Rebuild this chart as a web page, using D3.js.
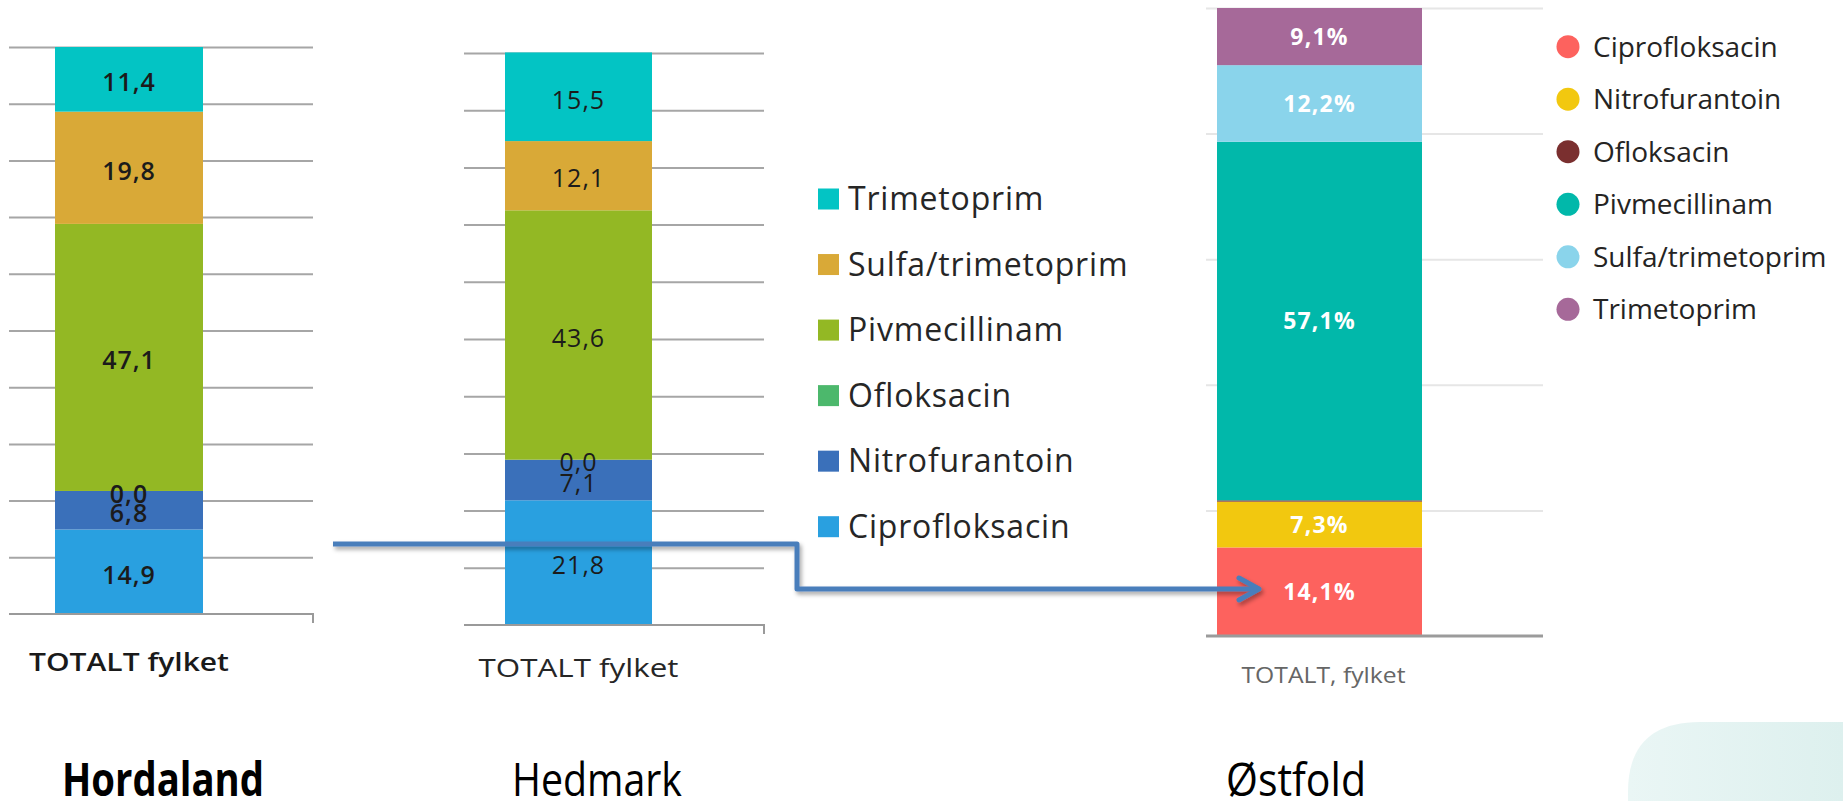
<!DOCTYPE html>
<html>
<head>
<meta charset="utf-8">
<script src="https://cdn.jsdelivr.net/npm/d3@7"></script>
<style>
	body { margin: 0; background: #fff; }
	svg { display: block; font-family: "Open Sans", sans-serif; }
</style>
</head>
<body>
<div id="chart"></div>
<script>
// stack order, bottom to top
var drugs = ["Ciprofloksacin", "Nitrofurantoin", "Ofloksacin", "Pivmecillinam", "Sulfa/trimetoprim", "Trimetoprim"];

// share of prescriptions, %
var hordalandValues = [14.9, 6.8, 0.0, 47.1, 19.8, 11.4];
var hedmarkValues = [21.8, 7.1, 0.0, 43.6, 12.1, 15.5];
var ostfoldValues = [14.1, 7.3, 0.2, 57.1, 12.2, 9.1];

var categoryExcel = "TOTALT fylket";
var categoryBi = "TOTALT, fylket";
var countyNames = ["Hordaland", "Hedmark", "Østfold"];

var excelColors = ["#29a0e0", "#3a70ba", "#4cb86c", "#93b824", "#d9a937", "#03c4c4"];
var biColors = ["#fd625e", "#f2c80f", "#7a2f2f", "#01b8aa", "#8ad4eb", "#a66999"];

var nb = d3.formatLocale({decimal: ",", thousands: " ", grouping: [3], currency: ["", " kr"]});
var fmt1 = nb.format(".1f");

var W = 1843, H = 801;

var svg = d3.select("#chart").append("svg")
	.attr("width", W)
	.attr("height", H);

var defs = svg.append("defs");
var shadow = defs.append("filter").attr("id", "shadow")
	.attr("x", "-5%").attr("y", "-50%").attr("width", "110%").attr("height", "200%");
shadow.append("feDropShadow")
	.attr("dx", 2).attr("dy", 3).attr("stdDeviation", 2)
	.attr("flood-color", "#000").attr("flood-opacity", 0.35);

var grad = defs.append("linearGradient").attr("id", "mint");
grad.append("stop").attr("offset", "0%").attr("stop-color", "#eaf6f5");
grad.append("stop").attr("offset", "100%").attr("stop-color", "#ddf0ee");

function stackOf(values) {
	var row = {};
	drugs.forEach(function(k, i) { row[k] = values[i]; });
	return d3.stack().keys(drugs)([row]);
}

// excel style stacked column (Hordaland, Hedmark)
function excelChart(values, o) {
	var series = stackOf(values);
	var x = d3.scaleBand().domain([categoryExcel]).range([o.barX0, o.barX1]);
	var y = d3.scaleLinear().domain([0, 100]).range([o.bottom, o.top]);
	var g = svg.append("g");

	// gridlines
	g.append("g")
		.attr("transform", "translate(" + o.gridX1 + ",0)")
		.call(d3.axisLeft(y).tickValues(d3.range(10, 101, 10)).tickSize(o.gridX1 - o.gridX0).tickFormat(""))
		.call(function(a) { a.select(".domain").remove(); })
		.selectAll("line")
		.attr("stroke", "#a6a6a6")
		.attr("stroke-width", 2);

	g.selectAll("rect.seg")
		.data(series)
		.enter().append("rect")
		.attr("class", "seg")
		.attr("x", x(categoryExcel))
		.attr("width", x.bandwidth())
		.attr("y", function(d) { return y(d[0][1]); })
		.attr("height", function(d) { return y(d[0][0]) - y(d[0][1]); })
		.attr("fill", function(d) { return excelColors[d.index]; });

	// x axis with the little end tick
	g.append("path")
		.attr("d", "M" + o.gridX0 + "," + y(0) + "H" + o.gridX1 + "v9")
		.attr("fill", "none")
		.attr("stroke", "#9a9a9a")
		.attr("stroke-width", 2);

	g.selectAll("text.val")
		.data(series)
		.enter().append("text")
		.attr("class", "val")
		.attr("x", x(categoryExcel) + x.bandwidth() / 2)
		.attr("y", function(d) { return y((d[0][0] + d[0][1]) / 2) + 3; })
		.attr("dy", "0.35em")
		.attr("text-anchor", "middle")
		.attr("font-size", 25)
		.attr("font-weight", o.weight)
		.attr("letter-spacing", 1)
		.attr("fill", "#1b1b1b")
		.text(function(d) { return fmt1(values[d.index]); });

	g.append("text")
		.attr("x", x(categoryExcel) + x.bandwidth() / 2)
		.attr("y", o.catY)
		.attr("text-anchor", "middle")
		.attr("font-size", 26)
		.attr("font-weight", o.weight)
		.attr("fill", o.catColor)
		.attr("textLength", 200)
		.attr("lengthAdjust", "spacingAndGlyphs")
		.text(categoryExcel);
}

excelChart(hordalandValues, {barX0: 55, barX1: 203, gridX0: 9, gridX1: 313, top: 47, bottom: 614, catY: 671, weight: 600, catColor: "#1a1a1a"});
excelChart(hedmarkValues, {barX0: 505, barX1: 652, gridX0: 464, gridX1: 764, top: 53, bottom: 625, catY: 677, weight: 400, catColor: "#262626"});

// excel legend
var legendExcel = drugs.slice().reverse();
var ly = d3.scalePoint().domain(legendExcel).range([199, 526.7]);
var lg = svg.append("g");
lg.selectAll("rect")
	.data(legendExcel)
	.enter().append("rect")
	.attr("x", 818)
	.attr("y", function(d) { return ly(d) - 10.5; })
	.attr("width", 21)
	.attr("height", 21)
	.attr("fill", function(d) { return excelColors[drugs.indexOf(d)]; });
lg.selectAll("text")
	.data(legendExcel)
	.enter().append("text")
	.attr("x", 848)
	.attr("y", function(d) { return ly(d); })
	.attr("dy", "0.35em")
	.attr("font-size", 32)
	.attr("letter-spacing", 0.8)
	.attr("fill", "#262626")
	.text(function(d) { return d; });

// power bi style column (Østfold)
(function() {
	var series = stackOf(ostfoldValues);
	var x = d3.scaleBand().domain([categoryBi]).range([1217, 1422]);
	var y = d3.scaleLinear().domain([0, 100]).range([636, 8]);
	var gridX0 = 1206, gridX1 = 1543;
	var g = svg.append("g");

	g.append("g")
		.attr("transform", "translate(" + gridX1 + ",0)")
		.call(d3.axisLeft(y).tickValues([20, 40, 60, 80, 100]).tickSize(gridX1 - gridX0).tickFormat(""))
		.call(function(a) { a.select(".domain").remove(); })
		.selectAll("line")
		.attr("stroke", "#e6e6e6")
		.attr("stroke-width", 2);

	g.selectAll("rect.seg")
		.data(series)
		.enter().append("rect")
		.attr("class", "seg")
		.attr("x", x(categoryBi))
		.attr("width", x.bandwidth())
		.attr("y", function(d) { return y(d[0][1]); })
		.attr("height", function(d) { return y(d[0][0]) - y(d[0][1]); })
		.attr("fill", function(d) { return biColors[d.index]; });

	g.append("line")
		.attr("x1", gridX0).attr("x2", gridX1)
		.attr("y1", y(0)).attr("y2", y(0))
		.attr("stroke", "#9b9b9b")
		.attr("stroke-width", 3);

	g.selectAll("text.val")
		.data(series.filter(function(d) { return ostfoldValues[d.index] >= 1; }))
		.enter().append("text")
		.attr("class", "val")
		.attr("x", x(categoryBi) + x.bandwidth() / 2)
		.attr("y", function(d) { return y((d[0][0] + d[0][1]) / 2); })
		.attr("dy", "0.35em")
		.attr("text-anchor", "middle")
		.attr("font-size", 23)
		.attr("font-weight", "bold")
		.attr("letter-spacing", 1.2)
		.attr("fill", "#fff")
		.text(function(d) { return fmt1(ostfoldValues[d.index]) + "%"; });

	g.append("text")
		.attr("x", x(categoryBi) + x.bandwidth() / 2 + 4)
		.attr("y", 683)
		.attr("text-anchor", "middle")
		.attr("font-size", 21)
		.attr("fill", "#666")
		.attr("textLength", 164)
		.attr("lengthAdjust", "spacingAndGlyphs")
		.text(categoryBi);

	// legend
	var py = d3.scalePoint().domain(drugs).range([46.7, 309.3]);
	var pl = svg.append("g");
	pl.selectAll("circle")
		.data(drugs)
		.enter().append("circle")
		.attr("cx", 1568)
		.attr("cy", function(d) { return py(d); })
		.attr("r", 11.5)
		.attr("fill", function(d, i) { return biColors[i]; });
	pl.selectAll("text")
		.data(drugs)
		.enter().append("text")
		.attr("x", 1593)
		.attr("y", function(d) { return py(d); })
		.attr("dy", "0.35em")
		.attr("font-size", 28)
		.attr("fill", "#252423")
		.text(function(d) { return d; });
})();

// connector arrow from the Hordaland chart to the Østfold one
var arrow = svg.append("g")
	.attr("fill", "none")
	.attr("stroke", "#4a7ebb")
	.attr("stroke-width", 5)
	.attr("stroke-linejoin", "round")
	.attr("filter", "url(#shadow)");
arrow.append("path")
	.attr("d", d3.line()([[333, 544], [797, 544], [797, 589], [1258, 589]]));
arrow.append("path")
	.attr("stroke-linecap", "round")
	.attr("d", d3.line()([[1239, 578], [1259, 589], [1239, 600]]));

// decorative corner shape
svg.append("path")
	.attr("d", "M1843,722H1700Q1628,722 1628,792V801H1843Z")
	.attr("fill", "url(#mint)");

// county names under the charts
var nameX = [163, 597, 1296];
var nameW = [202, 170, 140];
svg.selectAll("text.county")
	.data(countyNames)
	.enter().append("text")
	.attr("class", "county")
	.attr("x", function(d, i) { return nameX[i]; })
	.attr("y", 796)
	.attr("text-anchor", "middle")
	.attr("font-size", 46)
	.attr("font-weight", function(d, i) { return i === 0 ? "bold" : "normal"; })
	.attr("fill", "#000")
	.attr("textLength", function(d, i) { return nameW[i]; })
	.attr("lengthAdjust", "spacingAndGlyphs")
	.text(function(d) { return d; });
</script>
</body>
</html>
